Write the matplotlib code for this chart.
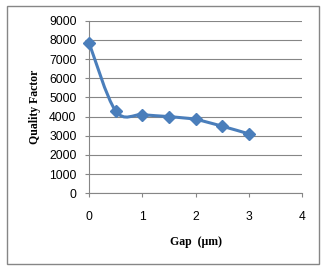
import numpy as np
import matplotlib
matplotlib.use("Agg")
import matplotlib.pyplot as plt
from matplotlib.path import Path
from matplotlib.patches import PathPatch, Rectangle

# data
gap = [0, 0.5, 1, 1.5, 2, 2.5, 3]
qf = [7850, 4300, 4100, 4000, 3850, 3500, 3100]
xticks = [0, 1, 2, 3, 4]
yticks = list(range(0, 9001, 1000))

blue = "#4a7ebb"
gray = "#868686"

fig = plt.figure(figsize=(3.24, 2.67), dpi=100)
fig.patches.append(Rectangle((0.0216, 0.0112), 0.963, 0.9663, transform=fig.transFigure,
                             fill=False, edgecolor=gray, linewidth=1.0))
ax = fig.add_axes([0.2747, 0.276, 0.6574, 0.6465])

# smoothed line like excel (catmull-rom -> bezier)
pts = np.column_stack([gap, qf]).astype(float)
verts = [pts[0]]
codes = [Path.MOVETO]
n = len(pts)
for i in range(n - 1):
    p0 = pts[i - 1] if i > 0 else pts[i]
    p1 = pts[i]
    p2 = pts[i + 1]
    p3 = pts[i + 2] if i + 2 < n else pts[i + 1]
    c1 = p1 + (p2 - p0) / 6
    c2 = p2 - (p3 - p1) / 6
    verts += [c1, c2, p2]
    codes += [Path.CURVE4] * 3
ax.add_patch(PathPatch(Path(verts, codes), facecolor="none", edgecolor=blue,
                       linewidth=2.2, capstyle="round", joinstyle="round",
                       zorder=3, clip_on=False))
ax.plot(gap, qf, "D", color=blue, markersize=6, zorder=4, clip_on=False)

ax.set_xlim(0, 4)
ax.set_ylim(0, 9000)
ax.set_xticks(xticks)
ax.set_yticks(yticks)
ax.yaxis.grid(True, color=gray, linewidth=0.8)
ax.set_axisbelow(True)
for s in ["top", "right"]:
    ax.spines[s].set_visible(False)
for s in ["left", "bottom"]:
    ax.spines[s].set_color(gray)
    ax.spines[s].set_linewidth(0.8)
ax.tick_params(axis="both", colors=gray, length=3, width=0.8, labelcolor="black",
               labelsize=8.7)
ax.tick_params(axis="x", pad=10)
ax.tick_params(axis="y", pad=6)
for lab in ax.get_xticklabels() + ax.get_yticklabels():
    lab.set_family("Liberation Sans")

ax.set_ylabel("Quality Factor", family="Liberation Serif", fontweight="bold",
              fontsize=8.5, labelpad=6)
ax.set_xlabel("Gap  (μm)", family="Liberation Serif", fontweight="bold",
              fontsize=8.5, labelpad=9)

fig.savefig("out.png", dpi=100)
